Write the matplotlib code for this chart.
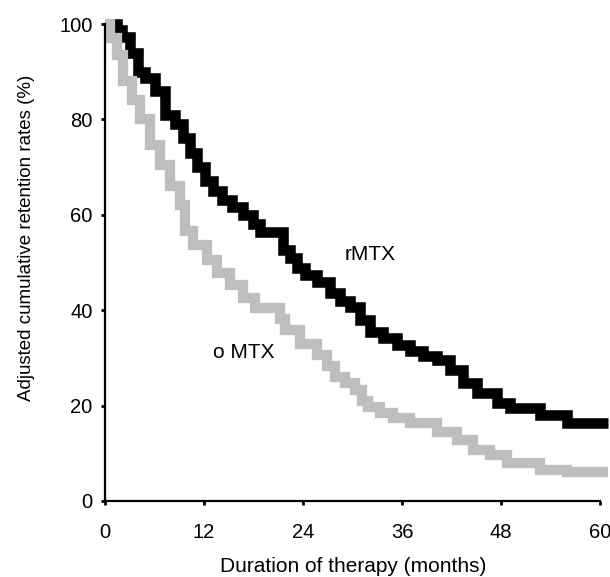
import matplotlib
matplotlib.use("Agg")
import matplotlib.pyplot as plt

plt.rcParams['font.family'] = ['Liberation Sans', 'DejaVu Sans']

# rMTX (black) step curve: month at which level starts, retention %
rmtx_t = [0, 1.5, 2.1, 3.0, 4.0, 4.8, 6.1, 7.3, 8.5, 9.5, 10.3, 11.2, 12.1, 13.1,
          14.2, 15.4, 16.7, 17.9, 18.8, 21.6, 22.4, 23.3, 24.2, 25.7, 27.3, 28.5,
          29.7, 30.9, 32.1, 33.7, 35.4, 37.0, 38.6, 40.2, 41.8, 43.4, 45.1, 47.5,
          49.1, 52.7, 56.0, 61.0]
rmtx_v = [100, 98.7, 97.3, 94, 90, 88.7, 86, 81, 79, 76, 73, 70, 67, 65,
          63, 61.6, 60, 58, 56.3, 52.6, 51, 48.8, 47.4, 46, 43.6, 42,
          40.7, 38, 35.4, 34.2, 32.7, 31.5, 30.5, 29.5, 27.5, 24.7, 22.6, 20.5,
          19.5, 18.0, 16.3, 16.3]

# oMTX (grey) step curve
omtx_t = [0, 0.6, 1.5, 2.2, 3.3, 4.2, 5.5, 6.7, 7.9, 9.1, 9.7, 10.7, 12.4, 13.6,
          15.2, 16.7, 18.2, 21.2, 21.8, 23.6, 25.7, 26.9, 27.9, 29.1, 30.3, 31.2,
          31.9, 33.3, 34.9, 37.0, 40.2, 42.7, 44.6, 46.7, 48.7, 52.7, 56.0, 61.0]
omtx_v = [100, 97, 93.5, 88, 84, 80, 74.6, 70.4, 66, 62, 56.5, 53.7, 50.5, 47.8,
          45.3, 42.6, 40.5, 38.2, 35.8, 33, 30.6, 28.2, 26, 24.7, 23.2, 21,
          19.7, 18.4, 17.4, 16.4, 14.5, 12.8, 10.7, 9.6, 8, 6.6, 6.0, 6.0]

x_ticks = [0, 12, 24, 36, 48, 60]
y_ticks = [0, 20, 40, 60, 80, 100]

fig = plt.figure(figsize=(6.10, 5.77), dpi=100)
ax = fig.add_axes([105/610, 76/577, 495/610, 477/577])

ax.plot(rmtx_t, rmtx_v, drawstyle='steps-post', color='black', lw=7.6,
        solid_capstyle='butt', solid_joinstyle='miter', clip_on=False, zorder=3)
ax.plot(omtx_t, omtx_v, drawstyle='steps-post', color='#bebebe', lw=7.4,
        solid_capstyle='butt', solid_joinstyle='miter', clip_on=False, zorder=4)

ax.set_xlim(0, 60)
ax.set_ylim(0, 100)
ax.set_xticks(x_ticks)
ax.set_yticks(y_ticks)
ax.set_xticklabels([str(t) for t in x_ticks])
ax.set_yticklabels([str(t) for t in y_ticks])
for s in ['top', 'right']:
    ax.spines[s].set_visible(False)
for s in ['left', 'bottom']:
    ax.spines[s].set_linewidth(1.6)
    ax.spines[s].set_zorder(5)
ax.tick_params(axis='x', direction='out', length=3, width=2, labelsize=14.5, pad=13)
ax.tick_params(axis='y', direction='out', length=3, width=2, labelsize=14.5, pad=6)

ax.text(32.1, 51.6, 'rMTX', fontsize=15, ha='center', va='center')
ax.text(16.8, 31.2, 'o MTX', fontsize=15, ha='center', va='center')

fig.text(353/610, 1 - 567/577, 'Duration of therapy (months)', fontsize=15,
         ha='center', va='center')
fig.text(27/610, 1 - 238/577, 'Adjusted cumulative retention rates (%)', fontsize=13.5,
         ha='center', va='center', rotation=90)

fig.savefig('out.png', dpi=100)
